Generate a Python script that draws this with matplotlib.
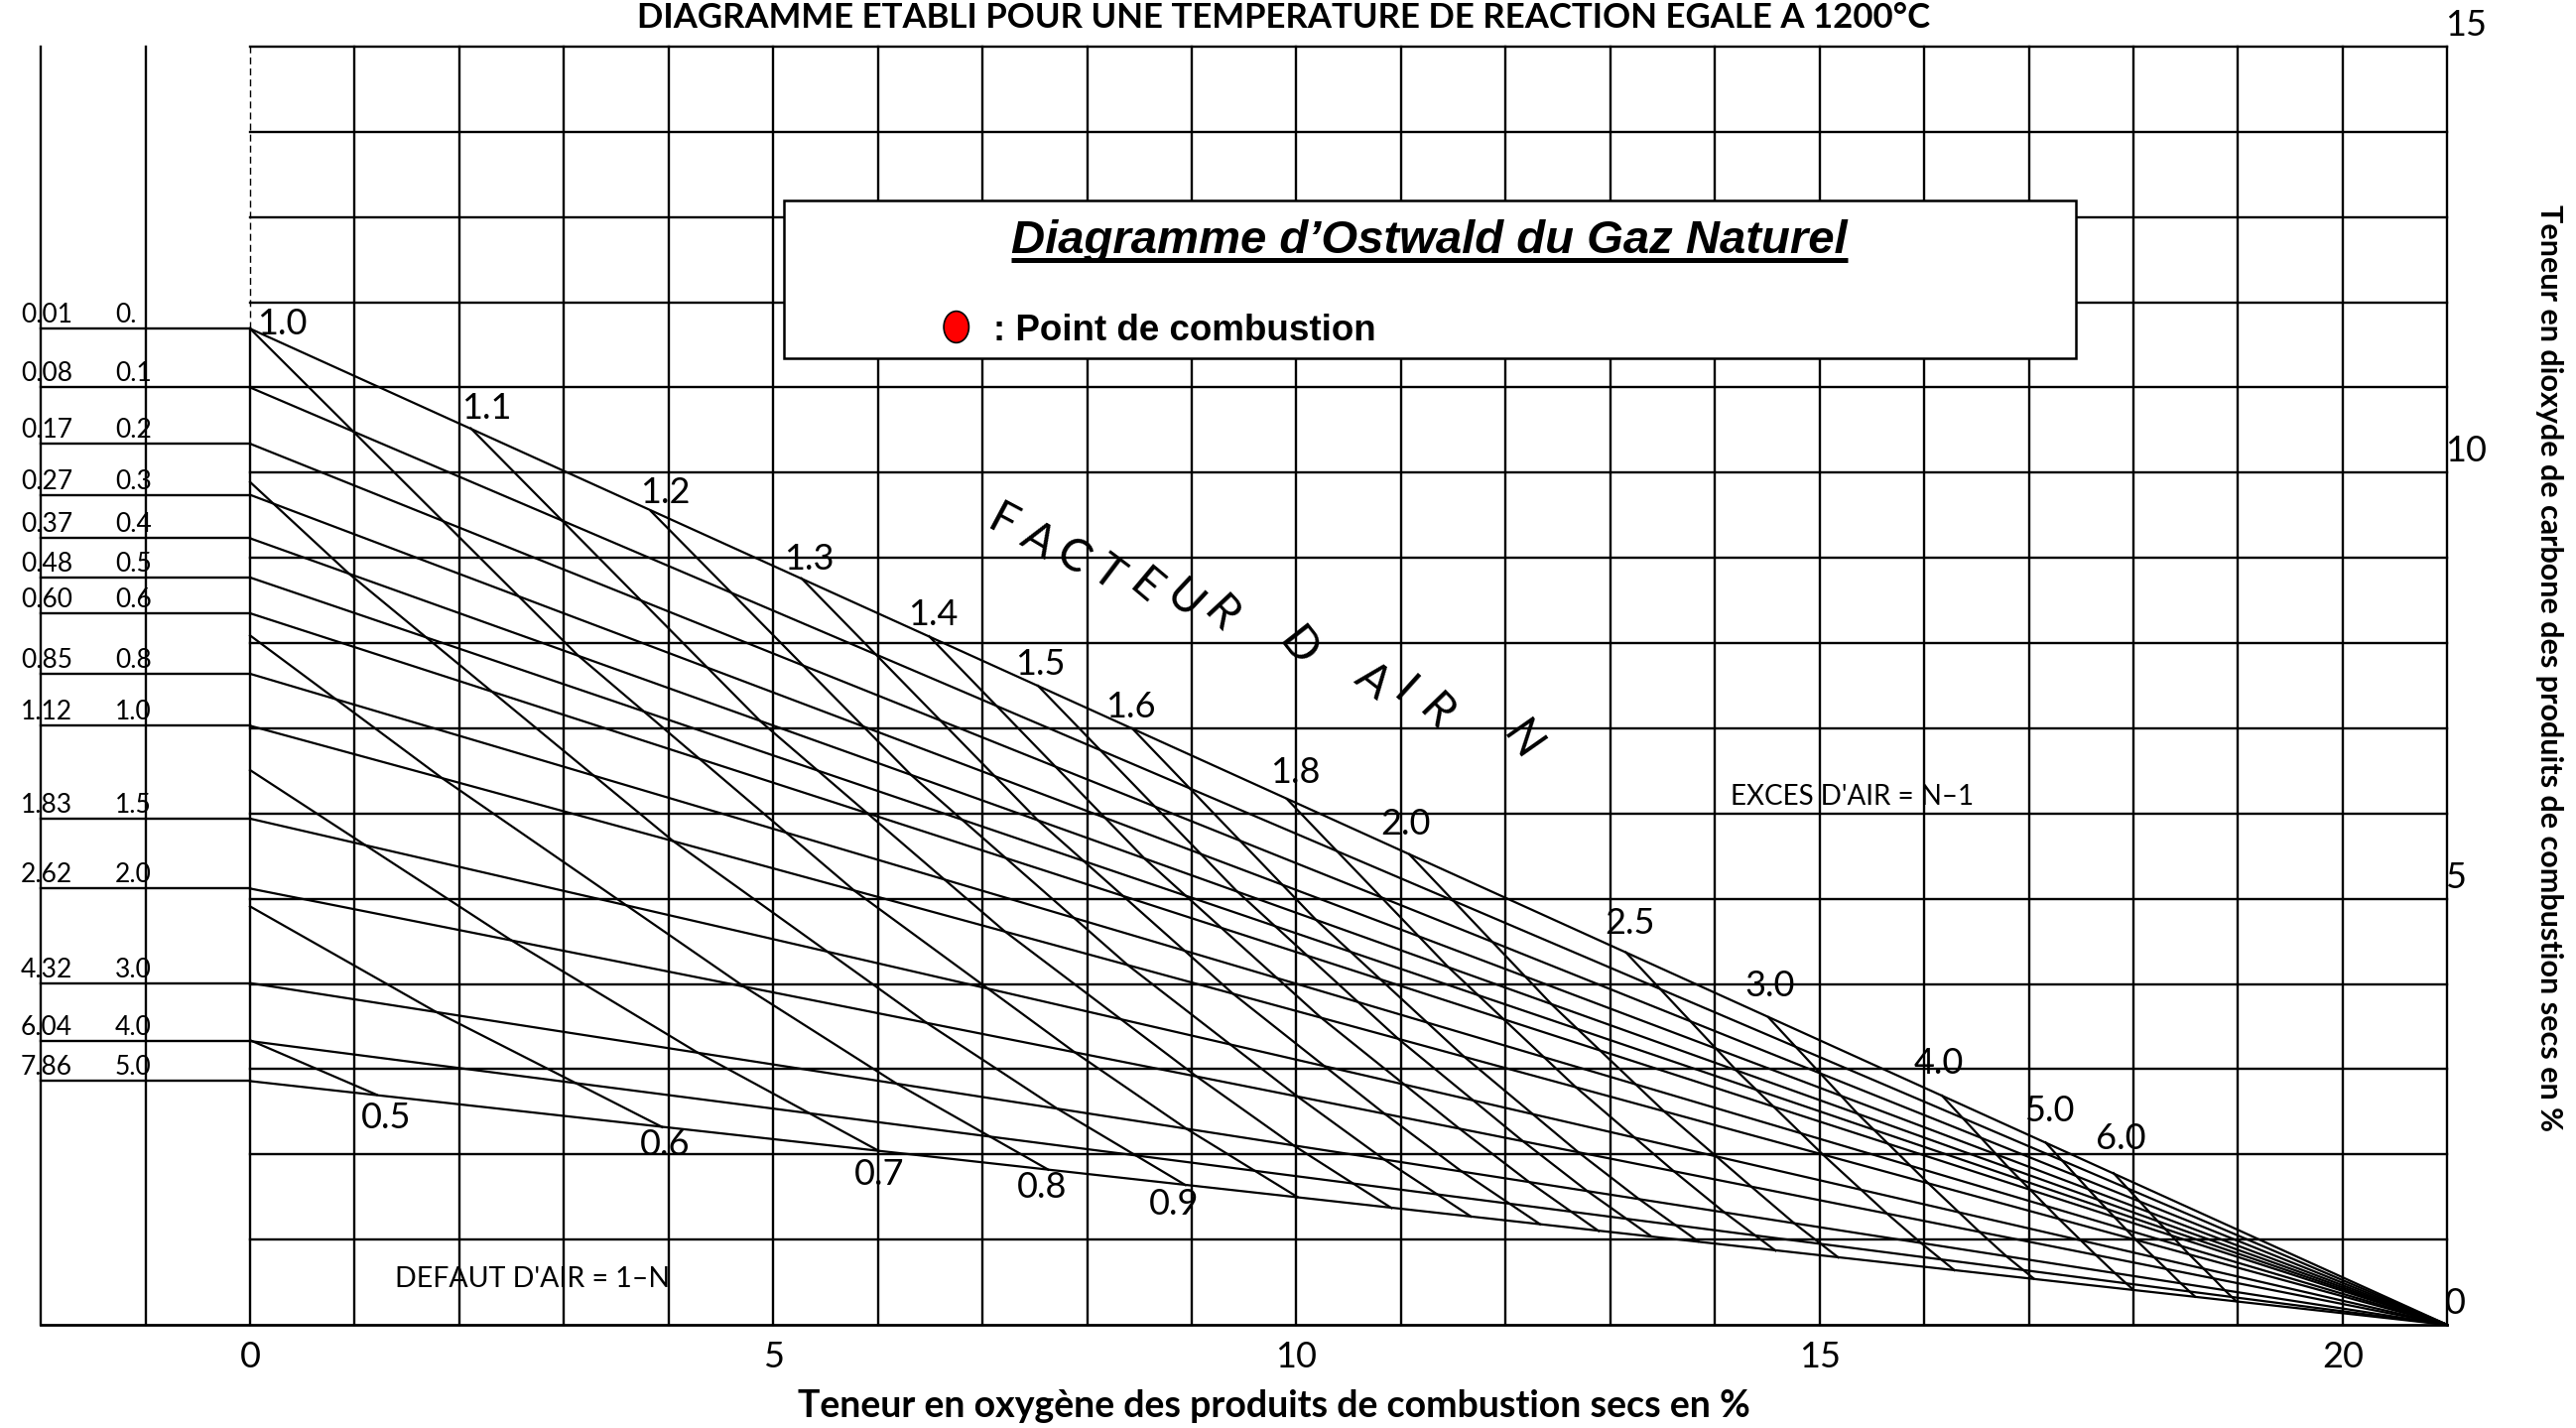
import matplotlib.pyplot as plt
from matplotlib.patches import Rectangle, Ellipse

# CO2 (%) at O2 = 0 for each incomplete-combustion line of the left table
co2_start = [11.69, 11.0, 10.34, 9.74, 9.23, 8.77, 8.35, 7.64, 7.03, 5.94, 5.12, 4.01, 3.33, 2.86]
col_a = ['0.01', '0.08', '0.17', '0.27', '0.37', '0.48', '0.60', '0.85', '1.12', '1.83', '2.62', '4.32', '6.04', '7.86']
col_b = ['0.', '0.1', '0.2', '0.3', '0.4', '0.5', '0.6', '0.8', '1.0', '1.5', '2.0', '3.0', '4.0', '5.0']
o2_air = 21.0

# air factor N lines (O2 %, CO2 %)
n_labels = ['0.5', '0.6', '0.7', '0.8', '0.9', '1.0', '1.1', '1.2', '1.3', '1.4',
            '1.5', '1.6', '1.8', '2.0', '2.5', '3.0', '4.0', '5.0', '6.0']
n_x = [
    [0, 1.21],
    [0, 1.78, 3.94],
    [0, 2.50, 4.27, 6.01],
    [0, 1.83, 4.72, 6.18, 7.63],
    [0, 0.95, 4.04, 6.47, 7.71, 8.94],
    [0, 3.13, 5.78, 7.88, 8.95, 10.01],
    [2.11, 4.88, 7.21, 9.04, 9.98, 10.91],
    [3.83, 6.32, 8.39, 10.01, 10.84, 11.67],
    [5.27, 7.53, 9.39, 10.84, 11.58, 12.33],
    [6.49, 8.55, 10.23, 11.55, 12.22, 12.89],
    [7.53, 9.43, 10.97, 12.16, 12.78, 13.39],
    [8.43, 10.19, 11.60, 12.70, 13.27, 13.84],
    [9.91, 11.45, 12.67, 13.61, 14.09, 14.58],
    [11.08, 12.44, 13.51, 14.34, 14.76, 15.18],
    [13.15, 14.21, 15.03, 15.65, 15.97, 16.29],
    [14.51, 15.37, 16.04, 16.53, 16.79, 17.05],
    [16.17, 16.81, 17.29, 17.64, 17.82, 18.00],
    [17.16, 17.66, 18.03, 18.31, 18.45, 18.59],
    [17.81, 18.23, 18.53, 18.76, 18.87, 18.98],
]
n_y = [
    [3.34, 2.70],
    [4.91, 3.67, 2.32],
    [6.51, 4.51, 3.20, 2.04],
    [8.09, 6.42, 3.97, 2.83, 1.82],
    [9.89, 8.81, 5.68, 3.54, 2.54, 1.64],
    [11.69, 7.86, 5.09, 3.20, 2.30, 1.50],
    [10.52, 7.08, 4.62, 2.92, 2.10, 1.37],
    [9.55, 6.45, 4.22, 2.68, 1.94, 1.27],
    [8.76, 5.92, 3.89, 2.48, 1.80, 1.18],
    [8.08, 5.47, 3.61, 2.31, 1.68, 1.10],
    [7.50, 5.09, 3.36, 2.16, 1.57, 1.04],
    [7.00, 4.75, 3.15, 2.02, 1.48, 0.98],
    [6.17, 4.20, 2.79, 1.80, 1.32, 0.87],
    [5.52, 3.76, 2.51, 1.63, 1.19, 0.79],
    [4.37, 2.98, 2.00, 1.30, 0.96, 0.64],
    [3.61, 2.47, 1.66, 1.09, 0.80, 0.54],
    [2.69, 1.84, 1.24, 0.82, 0.61, 0.41],
    [2.14, 1.47, 0.99, 0.66, 0.49, 0.33],
    [1.78, 1.22, 0.83, 0.55, 0.41, 0.28],
]
# where each N label sits
n_label_x = [1.30, 3.97, 6.01, 7.57, 8.83, 0.31, 2.26, 3.97, 5.34, 6.53,
             7.55, 8.42, 9.99, 11.04, 13.19, 14.53, 16.14, 17.20, 17.88]
n_label_y = [2.43, 2.11, 1.76, 1.61, 1.41, 11.74, 10.76, 9.76, 8.99, 8.33,
             7.75, 7.25, 6.48, 5.88, 4.71, 3.98, 3.07, 2.51, 2.18]

x_ticks = [0, 5, 10, 15, 20]
y_ticks = [0, 5, 10, 15]

THIN = dict(family='Lato', weight='normal', color='black')
K = 'black'

fig = plt.figure(figsize=(25.96, 14.39), dpi=100)
ax = fig.add_axes([0, 0, 1, 1])
ax.set_xlim(-2.39, 22.23)
ax.set_ylim(-1.211, 15.547)
ax.axis('off')

# grid
for gx in range(-2, 22):
    if gx == 0:
        ax.plot([0, 0], [0, co2_start[0]], color=K, lw=1.7)
        ax.plot([0, 0], [co2_start[0], 15], color=K, lw=1.0, ls=(0, (5, 3)))
    else:
        ax.plot([gx, gx], [0, 15], color=K, lw=1.7)
for gy in range(1, 16):
    ax.plot([0, 21], [gy, gy], color=K, lw=1.7)
ax.plot([-2, 21], [0, 0], color=K, lw=2.0)

# table lines and the lines converging to the air point
for c0, a, b in zip(co2_start, col_a, col_b):
    ax.plot([-2, 0], [c0, c0], color=K, lw=1.7)
    ax.plot([0, o2_air], [c0, 0], color=K, lw=1.6)
    ax.text(-2.19, c0 + 0.07, a, fontsize=19, va='baseline', ha='left', **THIN)
    ax.text(-1.29, c0 + 0.07, b, fontsize=19, va='baseline', ha='left', **THIN)

# air factor lines
for xs, ys in zip(n_x, n_y):
    ax.plot(xs, ys, color=K, lw=1.6)
for lab, lx, ly in zip(n_labels, n_label_x, n_label_y):
    ax.text(lx, ly, lab, fontsize=26, ha='center', va='center', **THIN)

# tick labels
for v in x_ticks:
    ax.text(v, -0.38, str(v), fontsize=26, ha='center', va='center', **THIN)
for v in y_ticks:
    ax.text(20.98, v + 0.25, str(v), fontsize=26, ha='left', va='center', **THIN)

# "FACTEUR D AIR N" written along the curve
letters = ['F', 'A', 'C', 'T', 'E', 'U', 'R', 'D', 'A', 'I', 'R', 'N']
let_x = [7.19, 7.53, 7.86, 8.19, 8.56, 8.92, 9.28, 10.01, 10.73, 11.03, 11.33, 12.15]
let_y = [9.41, 9.20, 9.01, 8.82, 8.66, 8.50, 8.33, 7.94, 7.55, 7.43, 7.18, 6.85]
let_rot = [-28, -31, -34, -37, -40, -43, -47, -52, -38, -42, -46, -55]
for ch, lx, ly, r in zip(letters, let_x, let_y, let_rot):
    ax.text(lx, ly, ch, fontsize=33, rotation=r, ha='center', va='center',
            rotation_mode='anchor', **THIN)

ax.text(14.15, 6.10, "EXCES D'AIR = N–1", fontsize=20, ha='left', va='baseline', **THIN)
ax.text(1.38, 0.44, "DEFAUT D'AIR = 1–N", fontsize=20.5, ha='left', va='baseline', **THIN)

# axis titles
ax.text(9.88, 15.22, 'DIAGRAMME ETABLI POUR UNE TEMPERATURE DE REACTION EGALE A 1200°C',
        fontsize=25, ha='center', va='baseline', family='Lato', weight='bold')
ax.text(9.79, -0.95, 'Teneur en oxygène des produits de combustion secs en %',
        fontsize=27, ha='center', va='center', family='Lato', weight='bold')
ax.text(21.97, 7.71, 'Teneur en dioxyde de carbone des produits de combustion secs en %',
        fontsize=22, ha='center', va='center', rotation=-90, family='Lato', weight='bold')

# legend box
ax.add_patch(Rectangle((5.10, 11.34), 12.35, 1.85, facecolor='white',
                       edgecolor=K, lw=1.8, zorder=5))
title = ax.text(11.27, 12.58, 'Diagramme d’Ostwald du Gaz Naturel', fontsize=34,
                ha='center', va='baseline', family='Liberation Sans',
                weight='bold', style='italic', zorder=6)
ax.add_patch(Ellipse((6.75, 11.71), 0.24, 0.37, facecolor='#ff0000',
                     edgecolor=K, lw=1.2, zorder=6))
ax.text(7.10, 11.55, ': Point de combustion', fontsize=26.5, ha='left', va='baseline',
        family='Liberation Sans', weight='bold', zorder=6)

fig.canvas.draw()
bb = title.get_window_extent()
inv = ax.transData.inverted()
ux0 = inv.transform((bb.x0, bb.y0))[0]
ux1 = inv.transform((bb.x1, bb.y0))[0]
ax.plot([ux0, ux1], [12.50, 12.50], color=K, lw=3.6, zorder=6, solid_capstyle='butt')

fig.savefig('out.png', dpi=100, facecolor='white')
